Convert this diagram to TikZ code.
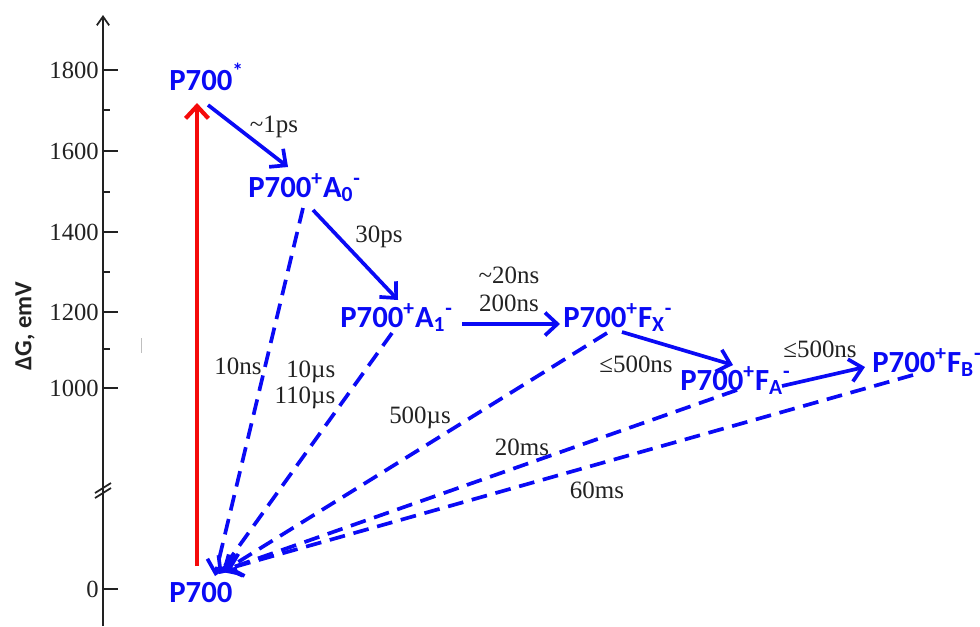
\documentclass[tikz,border=0pt]{standalone}
\usepackage{fontspec}
\setmainfont{Liberation Serif}
\newfontfamily\calib{Carlito}
\usetikzlibrary{arrows.meta,calc}
\definecolor{cState}{HTML}{0A0AF5}
\definecolor{cExc}{HTML}{F50A0A}
\definecolor{cInk}{HTML}{222222}
\tikzset{
  state/.style={text=cState, font=\calib\bfseries\fontsize{17.5}{20}\selectfont, anchor=base west, inner sep=0pt},
  rate/.style={font=\fontsize{14.2}{14.7}\selectfont, inner sep=0pt, text=cInk},
  fwd/.style={-{Straight Barb[length=7pt,width=13pt]}, line width=2.1pt, draw=cState},
  back/.style={fwd, dash pattern=on 9pt off 5pt},
  exc/.style={-{Straight Barb[length=7pt,width=13pt]}, line width=2.4pt, draw=cExc},
  axtick/.style={line width=1pt, draw=cInk},
  ticklbl/.style={font=\fontsize{14}{15}\selectfont, anchor=east, inner sep=0pt, text=cInk},
}
\begin{document}
\begin{tikzpicture}[x=0.02cm, y=-0.02cm]
\useasboundingbox (0,0) rectangle (980,626);
% energy axis
\draw[axtick, -{Straight Barb[length=5pt,width=7pt]}] (103,626) -- (103,15);
\foreach \v/\y in {1800/70,1600/151,1400/232,1200/312,1000/388,0/589}{
  \draw[axtick] (103,\y) -- (118,\y);
  \node[ticklbl] at (99,\y) {\v};
}
\foreach \y in {110,192,272,349}
  \draw[axtick] (103,\y) -- (110,\y);
\draw[axtick] (95,493) -- (111,483);
\draw[axtick] (95,498) -- (111,488);
\node[rotate=90, text=cInk, font=\calib\bfseries\fontsize{14}{16}\selectfont] (ax) at (25,326) {ΔG, emV};
\draw[gray!50, line width=0.5pt] (141,338) -- (141,353);

% states
\node[state] (star) at (169,90) {P700\textsuperscript{*}};
\node[state] (a0) at (248,197) {P700\textsuperscript{+}A\textsubscript{0}\textsuperscript{-}};
\node[state] (a1) at (340,327) {P700\textsuperscript{+}A\textsubscript{1}\textsuperscript{-}};
\node[state] (fx) at (563,327) {P700\textsuperscript{+}F\textsubscript{X}\textsuperscript{-}};
\node[state] (fa) at (680,390) {P700\textsuperscript{+}F\textsubscript{A}\textsuperscript{-}};
\node[state] (fb) at (872,372) {P700\textsuperscript{+}F\textsubscript{B}\textsuperscript{-}};
\node[state] (gnd) at (169,602) {P700};

% excitation and forward transfer
\draw[exc] ($(gnd.base west)+(28,-36)$) -- ($(star.base west)+(28,13)$);
\draw[fwd] ($(star.base west)+(39,15)$) -- ($(a0.base west)+(40,-30)$);
\draw[fwd] ($(a0.base west)+(65,13)$) -- ($(a1.base west)+(58,-27)$);
\draw[fwd] ($(a1.base west)+(122,-3)$) -- ($(fx.base west)+(-3,-3)$);
\draw[fwd] ($(fx.base west)+(59,5)$) -- ($(fa.base west)+(53,-25)$);
\draw[fwd] ($(fa.base west)+(102,-4)$) -- ($(fb.base west)+(-7,-5)$);

% recombination
\draw[back] ($(a0.base west)+(55,11)$) -- ($(gnd.base west)+(46,-26)$);
\draw[back] ($(a1.base west)+(52,6)$) -- ($(gnd.base west)+(50,-28)$);
\draw[back] ($(fx.base west)+(44,6)$) -- ($(gnd.base west)+(53,-30)$);
\draw[back] ($(fa.base west)+(57,0)$) -- ($(gnd.base west)+(56,-32)$);
\draw[back] ($(fb.base west)+(41,3)$) -- ($(gnd.base west)+(58,-33)$);

% rates
\node[rate] (t1) at (274,127) {\textasciitilde 1ps};
\node[rate] (t2) at (379,237) {30ps};
\node[rate] (t3) at (509,275) {\textasciitilde 20ns};
\node[rate] (t4) at (509,303) {200ns};
\node[rate] (t5) at (636,364) {≤500ns};
\node[rate] (t6) at (820,349) {≤500ns};
\node[rate] (k1) at (238,366) {10ns};
\node[rate, align=right] (k2) at (305,385) {10µs\\110µs};
\node[rate] (k3) at (420,418) {500µs};
\node[rate] (k4) at (522,447) {20ms};
\node[rate] (k5) at (597,490) {60ms};
\end{tikzpicture}
\end{document}
